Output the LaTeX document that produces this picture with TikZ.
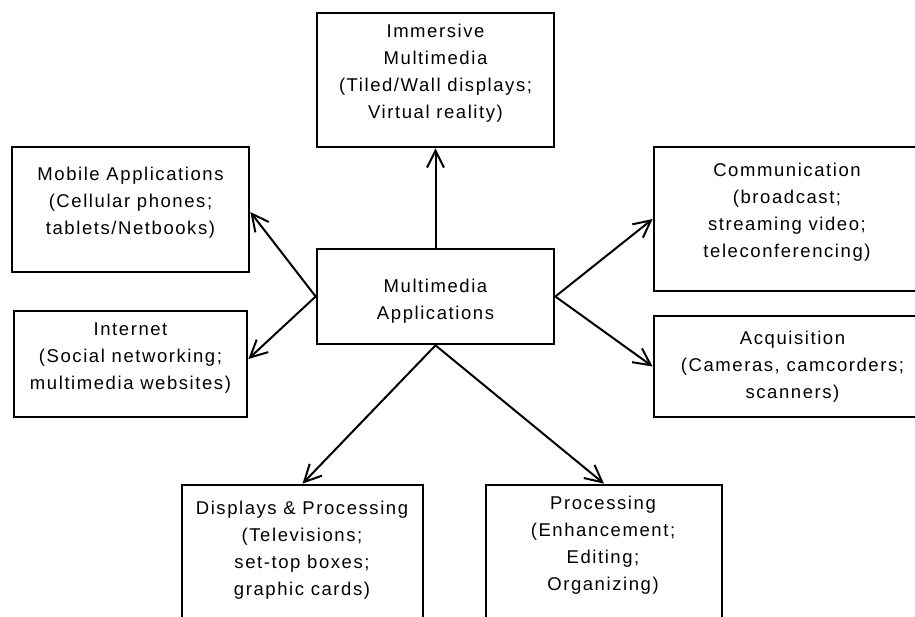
\documentclass[tikz,border=0pt]{standalone}
\usepackage{fontspec}
\newfontfamily\diafont[LetterSpace=8.5]{Liberation Sans}
\usetikzlibrary{arrows.meta}
\begin{document}
\begin{tikzpicture}[x=1pt,y=-1pt,
  box/.style={draw=black, line width=2.7pt, inner sep=0pt, rectangle},
  txt/.style={font=\diafont\fontsize{18.5}{27}\selectfont, inner sep=0pt, anchor=base, text=black},
  conn/.style={line width=2pt, -{Straight Barb[length=17pt,width=17pt]}}]
\useasboundingbox (0,0) rectangle (915,616);
\clip (0,0) rectangle (915,616);
\fill[white] (0,0) rectangle (915,616);
% boxes
\node[box, minimum width=237pt, minimum height=134pt] (imm) at (435.5,80) {};
\node[box, minimum width=237pt, minimum height=125pt] (mob) at (130.5,209.5) {};
\node[box, minimum width=237pt, minimum height=95pt] (c) at (435.5,296.5) {};
\node[box, minimum width=271pt, minimum height=144pt] (com) at (789.5,219) {};
\node[box, minimum width=233pt, minimum height=106pt] (int) at (130.5,364) {};
\node[box, minimum width=281pt, minimum height=101pt] (acq) at (794.5,366.5) {};
\node[box, minimum width=241pt, minimum height=155pt] (dis) at (302.5,562.5) {};
\node[box, minimum width=236pt, minimum height=155pt] (pro) at (604,562.5) {};
% texts
\node[txt] (immt) at (435.5,37.7) {\begin{tabular}[t]{@{}c@{}}Immersive\\Multimedia\\(Tiled/Wall displays;\\Virtual reality)\end{tabular}};
\node[txt] (mobt) at (130.5,180) {\begin{tabular}[t]{@{}c@{}}Mobile Applications\\(Cellular phones;\\tablets/Netbooks)\end{tabular}};
\node[txt] (ct) at (435.5,292.7) {\begin{tabular}[t]{@{}c@{}}Multimedia\\Applications\end{tabular}};
\node[txt] (comt) at (787,176.7) {\begin{tabular}[t]{@{}c@{}}Communication\\(broadcast;\\streaming video;\\teleconferencing)\end{tabular}};
\node[txt] (intt) at (130.5,335.7) {\begin{tabular}[t]{@{}c@{}}Internet\\(Social networking;\\multimedia websites)\end{tabular}};
\node[txt] (acqt) at (792.5,344.7) {\begin{tabular}[t]{@{}c@{}}Acquisition\\(Cameras, camcorders;\\scanners)\end{tabular}};
\node[txt] (dist) at (302,514.7) {\begin{tabular}[t]{@{}c@{}}Displays \& Processing\\(Televisions;\\set-top boxes;\\graphic cards)\end{tabular}};
\node[txt] (prot) at (603,509.7) {\begin{tabular}[t]{@{}c@{}}Processing\\(Enhancement;\\Editing;\\Organizing)\end{tabular}};
% connectors
\draw[conn] (c.north) -- (imm.south);
\draw[conn] (c.west) -- ([yshift=-2.5pt]mob.east);
\draw[conn] (c.west) -- ([yshift=5pt]int.east);
\draw[conn] (c.east) -- (com.west);
\draw[conn] (c.east) -- (acq.west);
\draw[conn] (c.south) -- (dis.north);
\draw[conn] (c.south) -- (pro.north);
\end{tikzpicture}
\end{document}
